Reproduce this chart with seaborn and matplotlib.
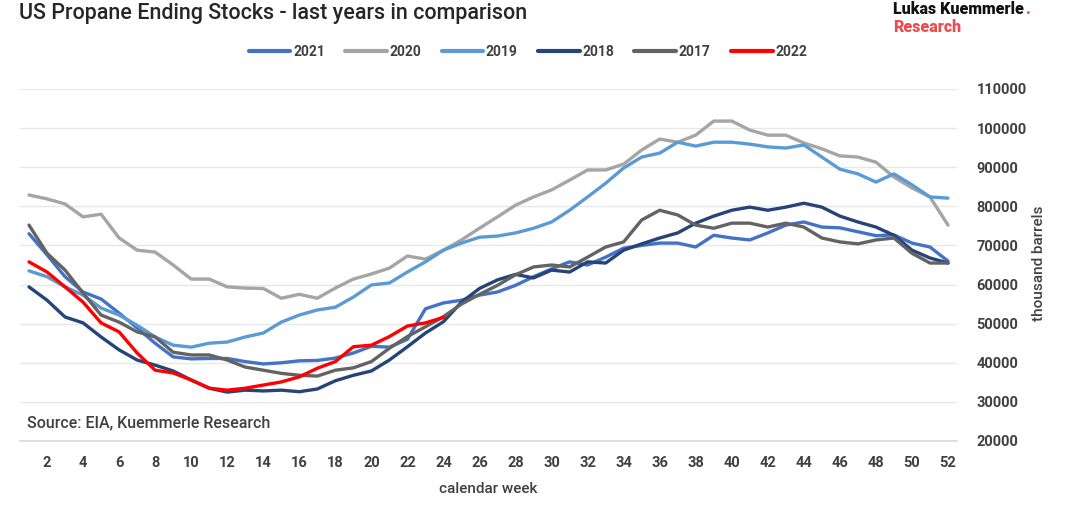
import matplotlib
matplotlib.use("Agg")
import matplotlib.pyplot as plt
from matplotlib.lines import Line2D
import pandas as pd
import seaborn as sns

# Weekly US propane ending stocks, thousand barrels
weeks = list(range(1, 53))

stocks_2021 = [73000, 67600, 62000, 58100, 56300, 52700, 48900, 45000, 41500, 41000,
               41100, 41100, 40300, 39700, 40000, 40500, 40600, 41200, 42500, 44200,
               44000, 46000, 53800, 55300, 56000, 57300, 58100, 59800, 62000, 64000,
               65800, 65000, 67000, 69300, 70000, 70600, 70600, 69600, 72600, 71900,
               71400, 73200, 75200, 76000, 74700, 74500, 73500, 72500, 72700, 70600,
               69600, 66000]
stocks_2020 = [82900, 81900, 80600, 77300, 78000, 71900, 68800, 68300, 65000, 61400,
               61400, 59400, 59100, 59000, 56500, 57500, 56500, 59100, 61400, 62700,
               64200, 67300, 66500, 68800, 71400, 74400, 77300, 80300, 82400, 84200,
               86700, 89300, 89300, 90800, 94400, 97200, 96400, 98200, 101800, 101800,
               99500, 98200, 98200, 96200, 94700, 92900, 92600, 91300, 87500, 84700,
               82400, 75200]
stocks_2019 = [63500, 62000, 59400, 57300, 54000, 52200, 49600, 46600, 44500, 44000,
               45000, 45300, 46600, 47600, 50400, 52200, 53500, 54200, 56800, 59900,
               60400, 63200, 65800, 68800, 70600, 72100, 72400, 73200, 74400, 76000,
               79000, 82400, 85900, 89800, 92600, 93600, 96400, 95400, 96400, 96400,
               95900, 95200, 94900, 95700, 92600, 89500, 88300, 86200, 88300, 85500,
               82400, 82100]
stocks_2018 = [59400, 56000, 51700, 50200, 46600, 43300, 40700, 39400, 37900, 35600,
               33500, 32500, 33000, 32800, 33000, 32600, 33300, 35400, 36800, 37900,
               40700, 44100, 47600, 50500, 55500, 59000, 61200, 62600, 61700, 63700,
               63200, 65800, 65500, 68800, 70400, 71900, 73200, 75700, 77500, 79000,
               79800, 79000, 79800, 80800, 79800, 77500, 76000, 74700, 72600, 68800,
               66800, 65500]
stocks_2017 = [75200, 68000, 63700, 57800, 52200, 50400, 47900, 46600, 42700, 42000,
               42000, 40700, 38900, 38100, 37300, 36800, 36600, 38100, 38700, 40300,
               43700, 46700, 49200, 51800, 55000, 57500, 59800, 62500, 64500, 65000,
               64500, 67000, 69600, 70900, 76500, 79000, 77800, 75200, 74400, 75700,
               75700, 74700, 75700, 74700, 71900, 70900, 70400, 71400, 71900, 68000,
               65500, 65500]
stocks_2022 = [65800, 63200, 59400, 55500, 50200, 47900, 42500, 38100, 37400, 35600,
               33500, 33000, 33500, 34300, 35100, 36400, 38600, 40300, 44100, 44500,
               46700, 49400, 50200, 51600]

years = ["2021", "2020", "2019", "2018", "2017", "2022"]
series = [stocks_2021, stocks_2020, stocks_2019, stocks_2018, stocks_2017, stocks_2022]
colors = ["#4472C4", "#A5A5A5", "#5B9BD5", "#264478", "#636363", "#FF0000"]
palette = dict(zip(years, colors))

y_ticks = list(range(20000, 110001, 10000))
x_ticks = list(range(2, 53, 2))

df = pd.concat(
    [pd.DataFrame({"week": weeks[:len(v)], "stocks": v, "year": y})
     for y, v in zip(years, series)],
    ignore_index=True,
)

sns.set_theme(style="white")
plt.rcParams["font.family"] = ["Roboto", "DejaVu Sans"]

text_color = "#404040"
W, H = 1067, 505
fig = plt.figure(figsize=(W / 100, H / 100), dpi=100)
ax = fig.add_axes([20 / W, 1 - 441 / H, 937 / W, 352 / H])

sns.lineplot(data=df, x="week", y="stocks", hue="year", hue_order=years,
             palette=palette, linewidth=2.4, legend=False, ax=ax)

ax.set_xlim(0.5, 52.5)
ax.set_ylim(20000, 110000)
ax.set_xticks(x_ticks)
ax.set_xticklabels([str(t) for t in x_ticks])
ax.set_yticks(y_ticks)
ax.set_yticklabels([str(t) for t in y_ticks])
ax.yaxis.tick_right()
ax.grid(axis="y", color="#E8E8E8", linewidth=1.0)
ax.grid(axis="x", visible=False)
ax.set_axisbelow(True)
for side in ["top", "left", "right"]:
    ax.spines[side].set_visible(False)
ax.spines["bottom"].set_color("#D9D9D9")
ax.spines["bottom"].set_linewidth(1.2)
ax.set_xlabel("")
ax.set_ylabel("")
ax.tick_params(axis="both", length=0, labelsize=10.5, labelcolor=text_color)
ax.tick_params(axis="x", pad=11)
ax.tick_params(axis="y", pad=14)
for lab in ax.get_xticklabels() + ax.get_yticklabels():
    lab.set_fontweight("bold")

# Titles and annotations
fig.text(19 / W, 1 - 14 / H, "US Propane Ending Stocks - last years in comparison",
         fontsize=15.5, color="#262626", ha="left", va="center", fontweight="medium")
fig.text(488 / W, 1 - 489 / H, "calendar week", fontsize=11, color=text_color,
         ha="center", va="center", fontweight="medium")
fig.text(1039 / W, 1 - 263 / H, "thousand barrels", fontsize=11, color=text_color,
         ha="center", va="center", rotation=90, fontweight="medium")
ax.text(27 / W, 1 - 423 / H, "Source: EIA, Kuemmerle Research", transform=fig.transFigure,
        fontsize=11.5, color=text_color, ha="left", va="center", fontweight="medium")

# Brand mark, top right
brand = fig.text(893 / W, 1 - 1 / H, "Lukas Kuemmerle", fontsize=11.5, color="#111111",
                 ha="left", va="top", fontweight="heavy")
fig.text(893 / W, 1 - 19 / H, "Research", fontsize=11.5, color="#EF4B4F",
         ha="left", va="top", fontweight="heavy")
ax.annotate(".", xy=(1, 0), xycoords=brand, xytext=(1, 0), textcoords="offset points",
            fontsize=11.5, color="#EF4B4F", fontweight="heavy", ha="left", va="bottom")

handles = [Line2D([0], [0], color=palette[y], linewidth=3) for y in years]
fig.legend(handles, years, loc="center", bbox_to_anchor=(528 / W, 1 - 52 / H),
           ncol=6, frameon=False, handlelength=3.0, handletextpad=0.2,
           columnspacing=1.45, prop={"size": 10, "weight": "bold"},
           labelcolor=text_color)

fig.savefig("out.png", dpi=100, facecolor="white")
